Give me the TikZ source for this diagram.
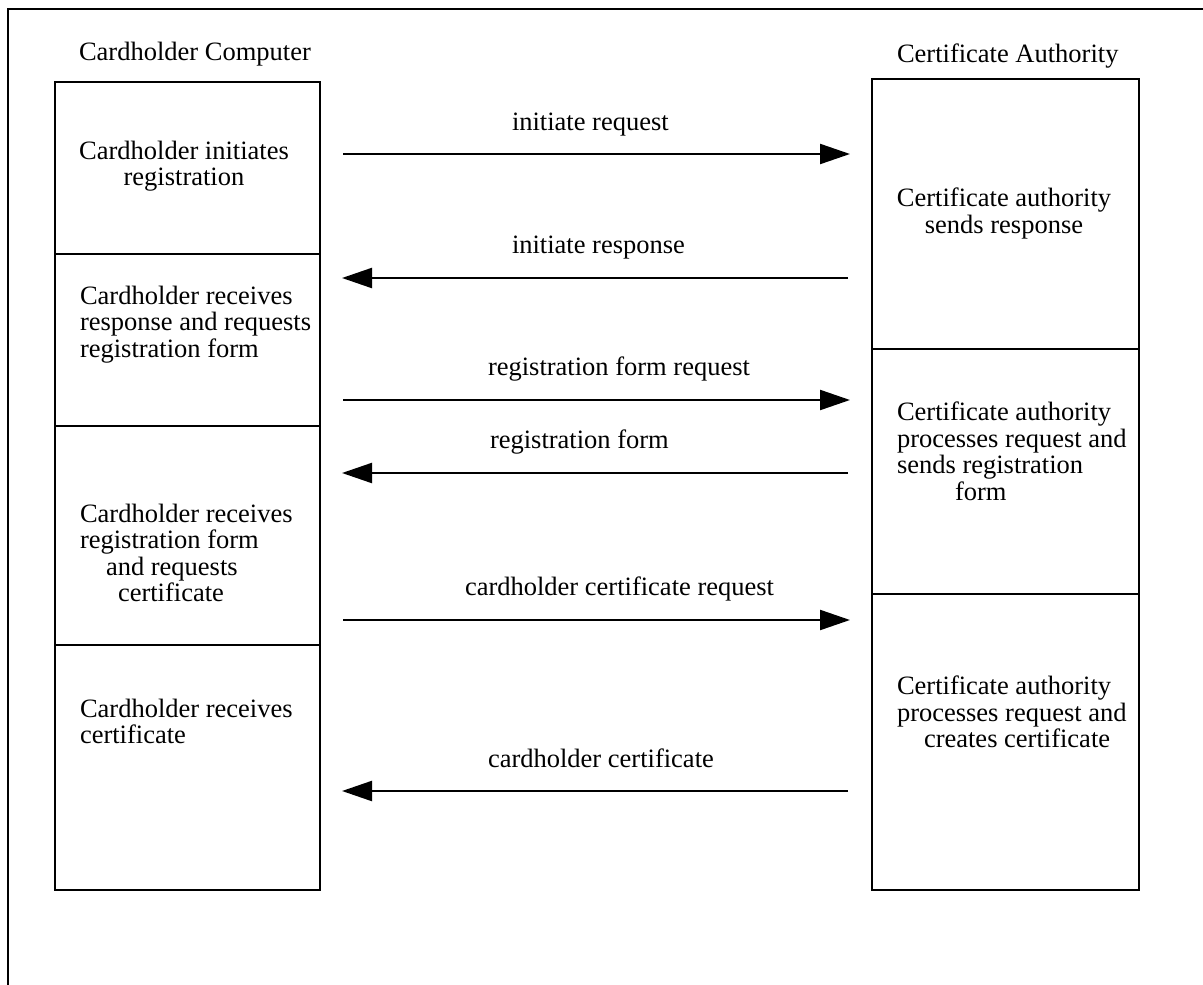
\documentclass[tikz,border=0pt]{standalone}
\usepackage{fontspec}
\setmainfont{Liberation Serif}
\usetikzlibrary{arrows.meta}
\begin{document}
\begin{tikzpicture}[x=1pt,y=-1pt,
  txt/.style={font=\fontsize{26.5}{26.5}\selectfont, inner sep=0pt, outer sep=0pt},
  cell/.style={draw, line width=2pt, rectangle, inner sep=0pt, outer sep=0pt},
  lcell/.style={cell, minimum width=265pt},
  rcell/.style={cell, minimum width=267pt},
  msg/.style={line width=2.2pt, -{Triangle[length=30pt,width=20pt]}}]
\useasboundingbox (0,0) rectangle (1203,985);
% frame (top and left edges)
\draw[line width=2pt] (8,985) -- (8,9) -- (1203,9);

% column titles
\node[txt, anchor=base west] (tcard) at (79,60) {Cardholder Computer};
\node[txt, anchor=base west] (tca) at (897,62) {Certificate Authority};

% cardholder column cells
\node[lcell, minimum height=172pt] (c1) at (187.5,168) {};
\node[lcell, minimum height=172pt] (c2) at (187.5,340) {};
\node[lcell, minimum height=219pt] (c3) at (187.5,535.5) {};
\node[lcell, minimum height=245pt] (c4) at (187.5,767.5) {};

% certificate authority column cells
\node[rcell, minimum height=270pt] (a1) at (1005.5,214) {};
\node[rcell, minimum height=245pt] (a2) at (1005.5,471.5) {};
\node[rcell, minimum height=296pt] (a3) at (1005.5,742) {};

% cell texts
\node[txt, align=center, anchor=north] (c1t) at (184,141) {Cardholder initiates\\registration};
\node[txt, align=left, anchor=north west] (c2t) at (80,286) {Cardholder receives\\response and requests\\registration form};
\node[txt, align=left, anchor=north west] (c3t) at (80,504) {Cardholder receives\\registration form\\\hspace*{26pt}and requests\\\hspace*{38pt}certificate};
\node[txt, align=left, anchor=north west] (c4t) at (80,699) {Cardholder receives\\certificate};
\node[txt, align=center, anchor=north] (a1t) at (1004,188) {Certificate authority\\sends response};
\node[txt, align=left, anchor=north west] (a2t) at (897,402) {Certificate authority\\processes request and\\sends registration\\\hspace*{58pt}form};
\node[txt, align=left, anchor=north west] (a3t) at (897,676) {Certificate authority\\processes request and\\\hspace*{27pt}creates certificate};

% message end points
\coordinate (m1l) at (343,154); \coordinate (m1r) at (850,154);
\coordinate (m2l) at (342,278); \coordinate (m2r) at (848,278);
\coordinate (m3l) at (343,400); \coordinate (m3r) at (850,400);
\coordinate (m4l) at (342,473); \coordinate (m4r) at (848,473);
\coordinate (m5l) at (343,620); \coordinate (m5r) at (850,620);
\coordinate (m6l) at (342,791); \coordinate (m6r) at (848,791);

% messages
\draw[msg] (m1l) -- (m1r);
\draw[msg] (m2r) -- (m2l);
\draw[msg] (m3l) -- (m3r);
\draw[msg] (m4r) -- (m4l);
\draw[msg] (m5l) -- (m5r);
\draw[msg] (m6r) -- (m6l);

% message labels
\node[txt, anchor=base west] (l1) at (512,130) {initiate request};
\node[txt, anchor=base west] (l2) at (512,253) {initiate response};
\node[txt, anchor=base west] (l3) at (488,375) {registration form request};
\node[txt, anchor=base west] (l4) at (490,448) {registration form};
\node[txt, anchor=base west] (l5) at (465,595) {cardholder certificate request};
\node[txt, anchor=base west] (l6) at (488,767) {cardholder certificate};
\end{tikzpicture}
\end{document}
